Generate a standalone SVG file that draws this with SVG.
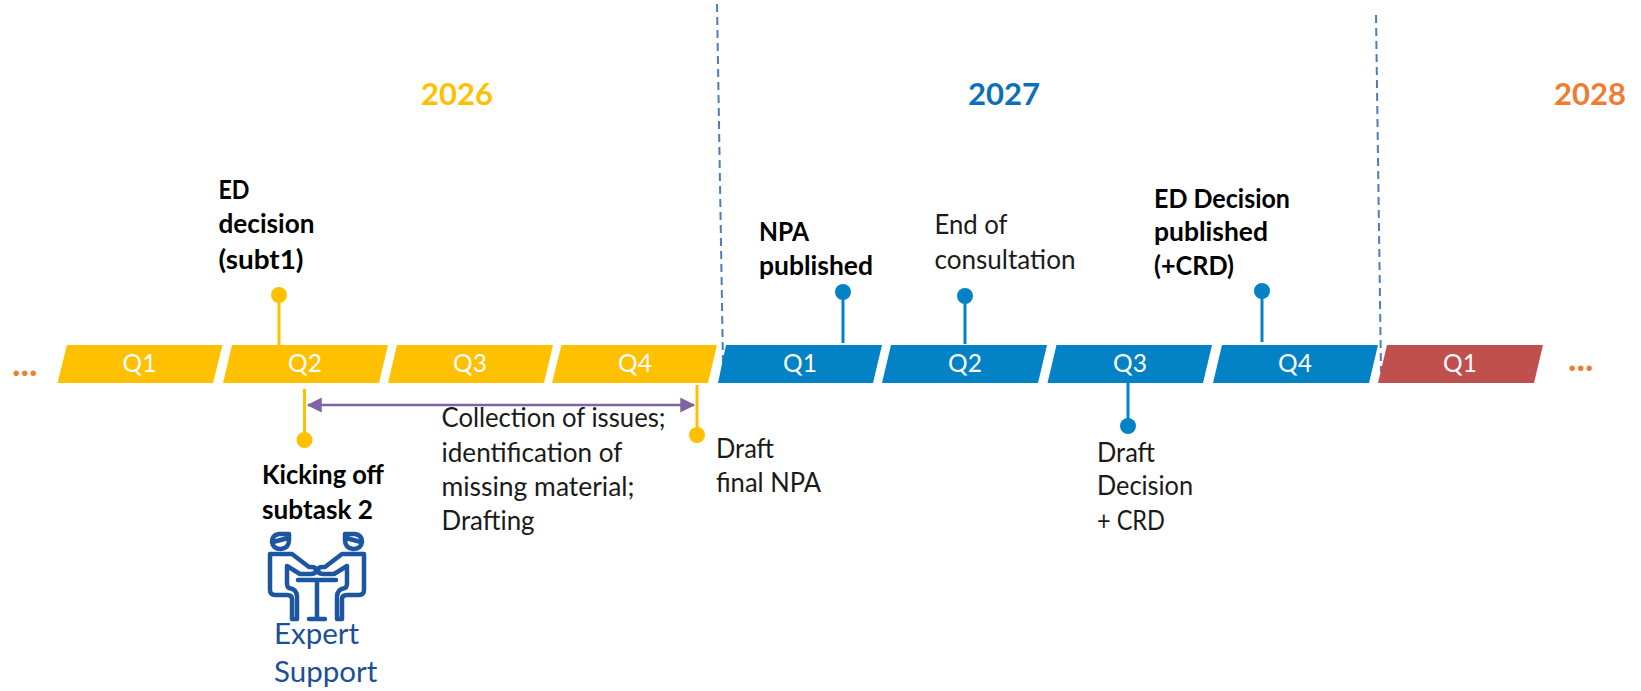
<svg xmlns="http://www.w3.org/2000/svg" width="1641" height="691" viewBox="0 0 1641 691">
<style>
text{font-family:"Lato","Liberation Sans",sans-serif;font-size:26px;fill:#1a1a1a}
.b{font-weight:700;fill:#000}
.q{fill:#fff;font-size:24.5px;text-anchor:middle}
.y{font-size:31px;font-weight:700;text-anchor:middle}
.d{fill:#ed7d31;font-weight:700;font-size:36px}
.es{fill:#1c4f94;font-size:29.5px}
.dash{stroke:#4a7ebb;stroke-width:2;stroke-dasharray:8 5;fill:none}
.ye{stroke:#ffc000;stroke-width:3;fill:none}
.bl{stroke:#0482c6;stroke-width:3;fill:none}
.pa{stroke:#8064a2;stroke-width:2.5;fill:none}
.icon{stroke:#1c55a0;stroke-width:4.500;fill:none;stroke-linejoin:round;stroke-linecap:round}
.cy{fill:#ffc000}.cb{fill:#0482c6}.cr{fill:#c0504d}
</style>
<defs>
<marker id="arr" markerWidth="6" markerHeight="6" refX="5.5" refY="3" orient="auto-start-reverse" markerUnits="strokeWidth"><path d="M0 0L6 3L0 6Z" fill="#8064a2"/></marker>
<g id="person">
<path class="icon" d="M289 534H279Q272 535 272 542Q273 549 281 549Q289 548 289 540ZM273 542L288 538"/>
<path class="icon" d="M292 619H297V597Q297 589 289 588Q287 587 287 583V566L300 574H311Q316 574 316 570Q316 567 311 567H309L292 554H270V590Q270 595 275 595H287Q292 595 292 599Z"/>
</g>
</defs>
<g id="connectors">
<path class="dash" d="M717 4L723 363"/>
<path class="dash" d="M1376 15L1381 372"/>
<path class="ye" d="M279 295V345"/>
<path class="ye" d="M304.500 389V440"/>
<path class="ye" d="M697 385V435"/>
<path class="bl" d="M843 292V343"/>
<path class="bl" d="M965 296V344"/>
<path class="bl" d="M1262 291V342"/>
<path class="bl" d="M1128 382V426"/>
<path class="pa" d="M308 405H694" marker-start="url(#arr)" marker-end="url(#arr)"/>
</g>
<g id="q1-2026"><polygon class="cy" points="67,345 222.500,345 213,383 57.500,383"/><text class="q" x="139.500" y="372">Q1</text></g>
<g id="q2-2026"><polygon class="cy" points="232,345 388,345 379,383 223,383"/><text class="q" x="305" y="372">Q2</text></g>
<g id="q3-2026"><polygon class="cy" points="397,345 553,345 544,383 388,383"/><text class="q" x="470" y="372">Q3</text></g>
<g id="q4-2026"><polygon class="cy" points="561.500,345 717,345 708,383 552,383"/><text class="q" x="635" y="372">Q4</text></g>
<g id="q1-2027"><polygon class="cb" points="726,345 882,345 873,383 718,383"/><text class="q" x="800" y="372">Q1</text></g>
<g id="q2-2027"><polygon class="cb" points="891,345 1047,345 1038,383 882,383"/><text class="q" x="965" y="372">Q2</text></g>
<g id="q3-2027"><polygon class="cb" points="1056.500,345 1212,345 1203,383 1047.500,383"/><text class="q" x="1130" y="372">Q3</text></g>
<g id="q4-2027"><polygon class="cb" points="1222,345 1378,345 1369,383 1213,383"/><text class="q" x="1295" y="372">Q4</text></g>
<g id="q1-2028"><polygon class="cr" points="1387,345 1543,345 1534,383 1378,383"/><text class="q" x="1460" y="372">Q1</text></g>
<g id="year-2026"><text class="y" x="457" y="105" style="fill:#ffc000">2026</text></g>
<g id="year-2027"><text class="y" x="1004" y="105" style="fill:#0a70b8">2027</text></g>
<g id="year-2028"><text class="y" x="1590" y="105" style="fill:#ed7d31">2028</text></g>
<g id="dots-left"><text class="d" x="12" y="376">...</text></g>
<g id="dots-right"><text class="d" x="1568" y="371">...</text></g>
<g id="ed-decision-subt1"><circle class="cy" cx="279" cy="295" r="8"/><text class="b" x="218.500" y="198.500" textLength="31" lengthAdjust="spacingAndGlyphs">ED</text><text class="b" x="218.500" y="233" textLength="96" lengthAdjust="spacingAndGlyphs">decision</text><text class="b" x="218.500" y="269" textLength="85" lengthAdjust="spacingAndGlyphs">(subt1)</text></g>
<g id="kicking-off"><circle class="cy" cx="304.500" cy="440" r="8"/><text class="b" x="262" y="484" textLength="122" lengthAdjust="spacingAndGlyphs">Kicking off</text><text class="b" x="262" y="519" textLength="111" lengthAdjust="spacingAndGlyphs">subtask 2</text></g>
<g id="collection"><text x="441.500" y="427" textLength="224" lengthAdjust="spacingAndGlyphs">Collection of issues;</text><text x="441.500" y="462" textLength="181" lengthAdjust="spacingAndGlyphs">identification of</text><text x="441.500" y="496" textLength="193" lengthAdjust="spacingAndGlyphs">missing material;</text><text x="441.500" y="530" textLength="93" lengthAdjust="spacingAndGlyphs">Drafting</text></g>
<g id="draft-final-npa"><circle class="cy" cx="697" cy="435" r="8"/><text x="716" y="458" textLength="58" lengthAdjust="spacingAndGlyphs">Draft</text><text x="716" y="492" textLength="105" lengthAdjust="spacingAndGlyphs">final NPA</text></g>
<g id="npa-published"><circle class="cb" cx="843" cy="292" r="8"/><text class="b" x="759" y="241" textLength="50" lengthAdjust="spacingAndGlyphs">NPA</text><text class="b" x="759" y="275" textLength="114" lengthAdjust="spacingAndGlyphs">published</text></g>
<g id="end-consultation"><circle class="cb" cx="965" cy="296" r="8"/><text x="934.500" y="234" textLength="73" lengthAdjust="spacingAndGlyphs">End of</text><text x="934.500" y="268.500" textLength="141" lengthAdjust="spacingAndGlyphs">consultation</text></g>
<g id="ed-decision-published"><circle class="cb" cx="1262" cy="291" r="8"/><text class="b" x="1154" y="208" textLength="136" lengthAdjust="spacingAndGlyphs">ED Decision</text><text class="b" x="1154" y="241" textLength="114" lengthAdjust="spacingAndGlyphs">published</text><text class="b" x="1154" y="275" textLength="80" lengthAdjust="spacingAndGlyphs">(+CRD)</text></g>
<g id="draft-decision"><circle class="cb" cx="1128" cy="426" r="8"/><text x="1097" y="462" textLength="58" lengthAdjust="spacingAndGlyphs">Draft</text><text x="1097" y="495" textLength="96" lengthAdjust="spacingAndGlyphs">Decision</text><text x="1097" y="530" textLength="68" lengthAdjust="spacingAndGlyphs">+ CRD</text></g>
<g id="expert-support">
<use href="#person"/>
<use href="#person" transform="matrix(-1 0 0 1 634 0)"/>
<path class="icon" d="M298 580H336M317 580V619M309 619H325"/>
<text class="es" x="274" y="644">Expert</text>
<text class="es" x="274" y="682">Support</text>
</g>
</svg>
